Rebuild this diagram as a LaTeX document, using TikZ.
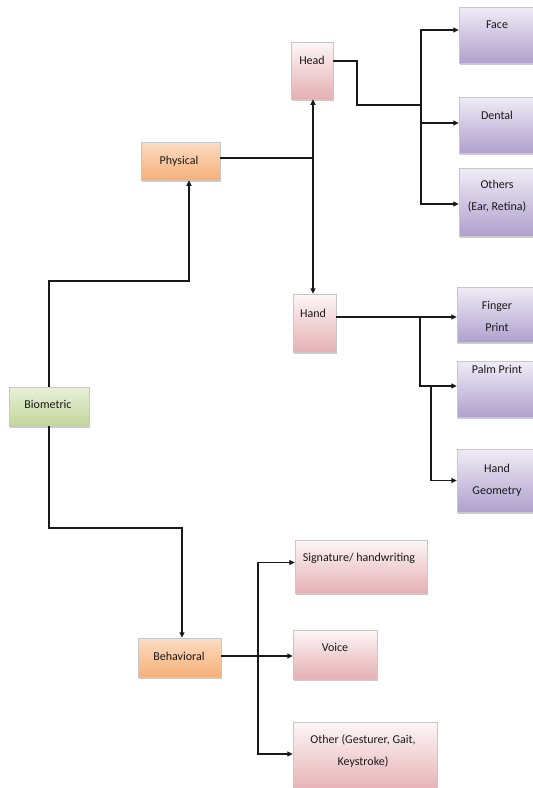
\documentclass[tikz,border=0pt]{standalone}
\usepackage{fontspec}
\setmainfont{Carlito}
\usetikzlibrary{arrows.meta,shadows,calc}
\definecolor{orgtop}{RGB}{252,220,194}
\definecolor{orgbot}{RGB}{246,176,120}
\definecolor{pnktop}{RGB}{253,246,246}
\definecolor{pnkbot}{RGB}{230,176,180}
\definecolor{purtop}{RGB}{240,236,246}
\definecolor{purbot}{RGB}{176,160,206}
\definecolor{grntop}{RGB}{232,240,216}
\definecolor{grnbot}{RGB}{194,214,154}
\definecolor{linec}{RGB}{25,25,25}
\definecolor{edgec}{RGB}{200,200,200}
\begin{document}
\begin{tikzpicture}[x=1pt,y=-1pt,
  box/.style={rectangle, draw=edgec, line width=0.5pt, inner sep=0pt,
    drop shadow={shadow xshift=1pt, shadow yshift=-2pt, opacity=0.4, fill=gray}},
  orgbox/.style={box, top color=orgtop, bottom color=orgbot},
  pnkbox/.style={box, top color=pnktop, bottom color=pnkbot},
  purbox/.style={box, top color=purtop, bottom color=purbot},
  grnbox/.style={box, top color=grntop, bottom color=grnbot},
  txt/.style={inner sep=0pt, align=center, text=black!90, font=\fontsize{12}{22}\selectfont},
  ln/.style={draw=linec, line width=1.1pt},
  arr/.style={ln, -{Triangle[length=5.5pt,width=5pt]}},
  dbl/.style={ln, {Triangle[length=5.5pt,width=5pt]}-{Triangle[length=5.5pt,width=5pt]}}
]
\useasboundingbox (0,0) rectangle (533,788);
\clip (0,0) rectangle (533,788);

% boxes
\node[pnkbox, minimum width=42pt, minimum height=57pt] (head) at (312,70.5) {};
\node[purbox, minimum width=81pt, minimum height=56pt] (face) at (499.5,35) {};
\node[purbox, minimum width=81pt, minimum height=56pt] (dental) at (499.5,125) {};
\node[purbox, minimum width=81pt, minimum height=68pt] (others) at (499.5,202) {};
\node[orgbox, minimum width=79pt, minimum height=38pt] (phys) at (180.5,161) {};
\node[pnkbox, minimum width=43pt, minimum height=58pt] (hand) at (314.5,323) {};
\node[purbox, minimum width=83pt, minimum height=55pt] (finger) at (498.5,314.5) {};
\node[purbox, minimum width=83pt, minimum height=56pt] (palm) at (498.5,389) {};
\node[purbox, minimum width=83pt, minimum height=63pt] (geom) at (498.5,480.5) {};
\node[grnbox, minimum width=80pt, minimum height=39pt] (bio) at (49,406.5) {};
\node[pnkbox, minimum width=132pt, minimum height=53pt] (sig) at (361,566.5) {};
\node[pnkbox, minimum width=84pt, minimum height=49pt] (voice) at (335,654.5) {};
\node[pnkbox, minimum width=144pt, minimum height=70pt] (other) at (365,757) {};
\node[orgbox, minimum width=83pt, minimum height=39pt] (behav) at (179.5,657.5) {};

% texts
\node[txt, anchor=base] (head-t) at (312,64.5) {Head};
\node[txt, anchor=base] (face-t) at (497,28.5) {Face};
\node[txt, anchor=base] (dental-t) at (497,119.5) {Dental};
\node[txt] (others-t) at (497,196.5) {Others\\(Ear, Retina)};
\node[txt, anchor=base] (phys-t) at (179,164.5) {Physical};
\node[txt, anchor=base] (hand-t) at (313,317.5) {Hand};
\node[txt] (finger-t) at (497,316) {Finger\\Print};
\node[txt, anchor=base] (palm-t) at (497,373.5) {Palm Print};
\node[txt] (geom-t) at (497,480) {Hand\\Geometry};
\node[txt, anchor=base] (bio-t) at (48,408.5) {Biometric};
\node[txt, anchor=base] (sig-t) at (359,561.5) {Signature/ handwriting};
\node[txt, anchor=base] (voice-t) at (335,651.5) {Voice};
\node[txt] (other-t) at (363,751.5) {Other (Gesturer, Gait,\\Keystroke)};
\node[txt, anchor=base] (behav-t) at (179,660.5) {Behavioral};

% junction coordinates
\coordinate (bj1) at (189,281);
\coordinate (pj) at (313,158);
\coordinate (hj1) at (357,61);
\coordinate (hj2) at (421,105);
\coordinate (hl) at (420,317);
\coordinate (hl2) at (431,386);
\coordinate (bj2) at (182,528);
\coordinate (bl) at (258,656);

% connectors
\draw[arr] (bio.north) |- (bj1) -- (bj1 |- phys.south);
\draw[ln] (phys.east |- pj) -- (pj);
\draw[dbl] (pj |- head.south) -- (pj |- hand.north);
\draw[ln] (head.east |- hj1) -- (hj1) |- (hj2);
\draw[arr] (hj2) |- ($(face.west)+(0,-5)$);
\draw[arr] (hj2) |- ($(dental.west)+(0,-2)$);
\draw[arr] (hj2) |- ($(others.west)+(0,2)$);
\draw[arr] (hand.east |- hl) -- (finger.west |- hl);
\draw[arr] (hl) |- (palm.west |- hl2);
\draw[arr] (hl2) |- (geom.west);
\draw[arr] (bio.south) |- (bj2) -- (bj2 |- behav.north);
\draw[arr] (behav.east |- bl) -- (voice.west |- bl);
\draw[arr] (bl) |- ($(sig.west)+(0,-4)$);
\draw[arr] (bl) |- ($(other.west)+(0,-3)$);
\end{tikzpicture}
\end{document}
